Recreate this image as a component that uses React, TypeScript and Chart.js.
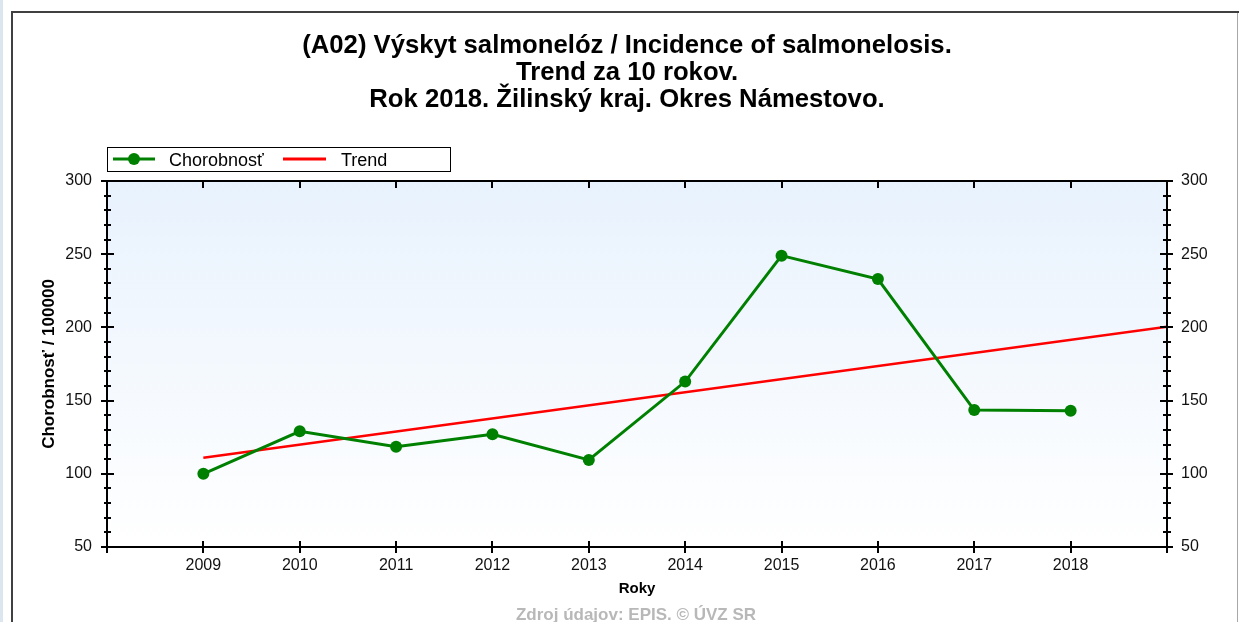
import React, { useEffect, useRef } from 'react';
import { Chart, registerables } from 'chart.js';

Chart.register(...registerables);

// ---- data ----
const years = [2009, 2010, 2011, 2012, 2013, 2014, 2015, 2016, 2017, 2018];
const incidence = [100, 129, 118.5, 127, 109.5, 163, 249, 233, 143.5, 143];
const trendYears = [2009, 2019];
const trendValues = [111, 200.5];
const yTickValues = [50, 100, 150, 200, 250, 300];
const titleLines = [
  '(A02) Výskyt salmonelóz / Incidence of salmonelosis.',
  'Trend za 10 rokov.',
  'Rok 2018. Žilinský kraj. Okres Námestovo.',
];
const seriesLabels = ['Chorobnosť', 'Trend'];
const yAxisTitle = 'Chorobnosť / 100000';
const xAxisTitle = 'Roky';
const sourceNote = 'Zdroj údajov: EPIS. © ÚVZ SR';

const FONT = '"Liberation Sans", Arial, sans-serif';
const GREEN = '#008000';
const RED = '#ff0000';

const decorPlugin = {
  id: 'decor',
  beforeDatasetsDraw(chart: any) {
    const { ctx, chartArea: a } = chart;
    ctx.save();
    const g = ctx.createLinearGradient(0, a.top, 0, a.bottom);
    g.addColorStop(0, '#e8f2fd');
    g.addColorStop(1, '#ffffff');
    ctx.fillStyle = g;
    ctx.fillRect(a.left, a.top, a.right - a.left, a.bottom - a.top);
    ctx.restore();
  },
  afterDraw(chart: any) {
    const { ctx, chartArea: a } = chart;
    const xs = chart.scales.x;
    const ys = chart.scales.y;
    const L = Math.round(a.left), R = Math.round(a.right), T = Math.round(a.top), B = Math.round(a.bottom);
    ctx.save();
    ctx.strokeStyle = '#000';
    ctx.lineWidth = 2;
    const line = (x1: number, y1: number, x2: number, y2: number) => {
      ctx.beginPath();
      ctx.moveTo(x1, y1);
      ctx.lineTo(x2, y2);
      ctx.stroke();
    };
    // frame
    line(L, T - 1, L, B + 6);
    line(R, T - 1, R, B + 6);
    line(L - 6, T, R + 6, T);
    line(L - 6, B, R + 6, B);
    // y ticks (major every 50, minor every 10)
    for (let v = ys.min; v <= ys.max; v += 10) {
      const py = Math.round(ys.getPixelForValue(v));
      const major = v % 50 === 0;
      if (major) {
        line(L - 6, py, L + 7, py);
        line(R - 7, py, R + 6, py);
      } else {
        line(L - 3, py, L + 4, py);
        line(R - 4, py, R + 4, py);
      }
    }
    // x ticks
    years.forEach((yr) => {
      const px = Math.round(xs.getPixelForValue(yr));
      line(px, B - 6, px, B + 6);
      line(px, T, px, T + 7);
    });

    // title
    ctx.fillStyle = '#000';
    ctx.textAlign = 'center';
    ctx.textBaseline = 'alphabetic';
    ctx.font = `bold 25.7px ${FONT}`;
    const baselines = [52.5, 80, 107];
    titleLines.forEach((t, i) => ctx.fillText(t, 627, baselines[i]));

    // legend
    ctx.lineWidth = 1;
    ctx.strokeStyle = '#000';
    ctx.strokeRect(107.5, 147.5, 343, 24);
    ctx.lineWidth = 3;
    ctx.strokeStyle = GREEN;
    line(113, 159, 155, 159);
    ctx.fillStyle = GREEN;
    ctx.beginPath();
    ctx.arc(134, 159, 6, 0, Math.PI * 2);
    ctx.fill();
    ctx.strokeStyle = RED;
    line(283, 159, 326, 159);
    ctx.fillStyle = '#000';
    ctx.textAlign = 'left';
    ctx.font = `18px ${FONT}`;
    ctx.fillText(seriesLabels[0], 169, 166);
    ctx.fillText(seriesLabels[1], 341, 166);

    // source note
    ctx.textAlign = 'center';
    ctx.font = `bold 17px ${FONT}`;
    ctx.fillStyle = '#b8b8b8';
    ctx.fillText(sourceNote, 636, 620);
    ctx.restore();
  },
};

export default function App() {
  const ref = useRef<HTMLCanvasElement>(null);
  useEffect(() => {
    if (!ref.current) return;
    const tickFont = { family: FONT, size: 16 };
    const chart = new Chart(ref.current, {
      type: 'line',
      data: {
        datasets: [
          {
            label: seriesLabels[0],
            data: years.map((x, i) => ({ x, y: incidence[i] })),
            borderColor: GREEN,
            backgroundColor: GREEN,
            borderWidth: 3,
            pointRadius: 6,
            pointBorderWidth: 0,
            pointBackgroundColor: GREEN,
            tension: 0,
          },
          {
            label: seriesLabels[1],
            data: trendYears.map((x, i) => ({ x, y: trendValues[i] })),
            borderColor: RED,
            backgroundColor: RED,
            borderWidth: 2.5,
            pointRadius: 0,
            tension: 0,
          },
        ],
      },
      options: {
        animation: false,
        responsive: false,
        devicePixelRatio: 1,
        layout: { padding: { top: 181, left: 0, right: 0, bottom: 0 } },
        plugins: {
          legend: { display: false },
          title: { display: false },
          tooltip: { enabled: false },
        },
        scales: {
          x: {
            type: 'linear',
            position: 'bottom',
            min: 2008,
            max: 2019,
            afterBuildTicks: (s: any) => {
              s.ticks = years.map((v) => ({ value: v }));
            },
            afterFit: (s: any) => {
              s.height = 75;
            },
            ticks: {
              font: tickFont,
              color: '#111',
              padding: 9,
              maxRotation: 0,
              autoSkip: false,
              callback: (v: any) => String(v),
            },
            grid: { display: false, drawTicks: false },
            border: { display: false },
            title: {
              display: true,
              text: xAxisTitle,
              color: '#000',
              font: { family: FONT, size: 15, weight: 'bold' },
              padding: { top: 0, bottom: 24 },
            },
          },
          y: {
            position: 'left',
            min: 50,
            max: 300,
            afterBuildTicks: (s: any) => {
              s.ticks = yTickValues.map((v) => ({ value: v }));
            },
            afterFit: (s: any) => {
              s.width = 107;
            },
            ticks: { font: tickFont, color: '#111', padding: 15, callback: (v: any) => String(v) },
            grid: { display: false, drawTicks: false },
            border: { display: false },
            title: {
              display: true,
              text: yAxisTitle,
              color: '#000',
              font: { family: FONT, size: 17, weight: 'bold' },
              padding: { top: 39, bottom: 0 },
            },
          },
          y2: {
            position: 'right',
            min: 50,
            max: 300,
            afterBuildTicks: (s: any) => {
              s.ticks = yTickValues.map((v) => ({ value: v }));
            },
            afterFit: (s: any) => {
              s.width = 72;
            },
            ticks: { font: tickFont, color: '#111', padding: 14, callback: (v: any) => String(v) },
            grid: { display: false, drawTicks: false },
            border: { display: false },
          },
        },
      } as any,
      plugins: [decorPlugin],
    });
    return () => chart.destroy();
  }, []);

  return (
    <div style={{ position: 'fixed', left: 0, top: 0, width: 1239, height: 622, background: '#fff', overflow: 'hidden' }}>
      <div style={{ position: 'absolute', left: 0, top: 0, width: 3, height: 622, background: '#dbe6ee' }} />
      <div style={{ position: 'absolute', left: 11, top: 11, width: 2, height: 611, background: '#404040' }} />
      <div style={{ position: 'absolute', left: 11, top: 11, width: 1228, height: 2, background: '#404040' }} />
      <div style={{ position: 'absolute', left: 1237, top: 13, width: 1, height: 609, background: '#a8a8a8' }} />
      <canvas ref={ref} width={1239} height={622} style={{ position: 'absolute', left: 0, top: 0, display: 'block' }} />
    </div>
  );
}
